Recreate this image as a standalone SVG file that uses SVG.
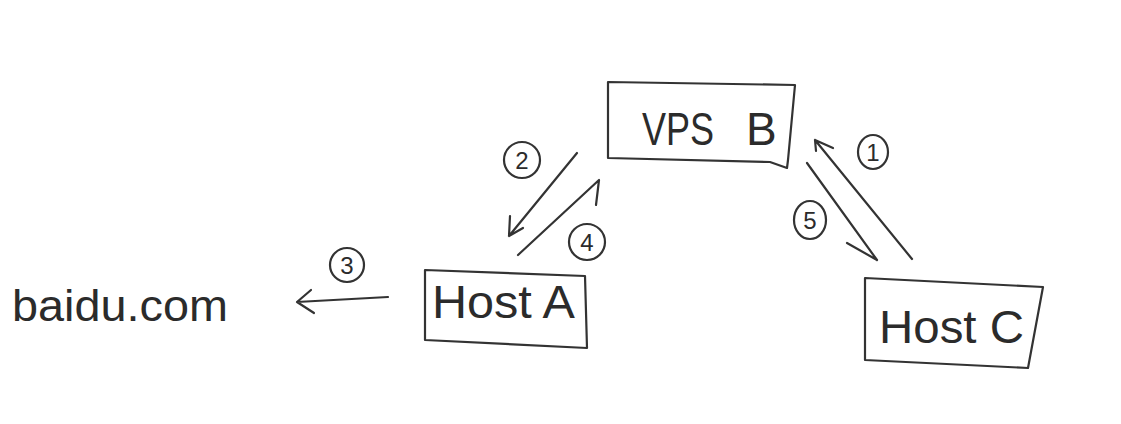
<svg xmlns="http://www.w3.org/2000/svg" width="1121" height="424" viewBox="0 0 1121 424">
  <style>
    .ink { fill: none; stroke: #333; stroke-width: 2.2; stroke-linecap: round; stroke-linejoin: round; }
    .label { font-family: "Liberation Sans", Arial, sans-serif; fill: #2b2b2b; }
    .big { font-size: 46px; }
    .num { font-size: 24px; text-anchor: middle; }
  </style>
  <rect x="0" y="0" width="1121" height="424" fill="#ffffff"/>

  <!-- nodes -->
  <g id="vps-b">
    <path class="ink" d="M608,82 L795,85 L788,160 L787,168 L770,162 L608,158 Z"/>
    <text class="label big" x="642" y="145"><tspan textLength="72" lengthAdjust="spacingAndGlyphs">VPS</tspan> <tspan x="746">B</tspan></text>
  </g>

  <g id="host-a">
    <path class="ink" d="M425,270 L585,276 L587,348 L425,340 Z"/>
    <text class="label big" x="432" y="318" textLength="143" lengthAdjust="spacingAndGlyphs">Host A</text>
  </g>

  <g id="host-c">
    <path class="ink" d="M865,278 L1043,287 L1028,368 L865,360 Z"/>
    <text class="label big" x="879" y="343" textLength="145" lengthAdjust="spacingAndGlyphs">Host C</text>
  </g>

  <g id="baidu">
    <text class="label" x="12" y="321" font-size="44" textLength="216" lengthAdjust="spacingAndGlyphs">baidu.com</text>
  </g>

  <!-- connectors with their step numbers -->
  <g id="connectors">
    <!-- 1: Host C to VPS B -->
    <path class="ink" d="M912,259 L815,140 M815,140 L833,148 M815,140 L816,151"/>
    <ellipse class="ink" cx="873" cy="152" rx="15" ry="17"/>
    <text class="label num" x="873" y="161">1</text>

    <!-- 2: VPS B to Host A -->
    <path class="ink" d="M577,153 L509,236 M509,236 L510,216 M509,236 L523,228"/>
    <circle class="ink" cx="522" cy="160" r="18"/>
    <text class="label num" x="522" y="169">2</text>

    <!-- 3: Host A to baidu.com -->
    <path class="ink" d="M388,297 L297,302 M297,302 L311,290 M297,302 L314,313"/>
    <circle class="ink" cx="347" cy="265" r="17"/>
    <text class="label num" x="347" y="274">3</text>

    <!-- 4: Host A back to VPS B -->
    <path class="ink" d="M518,255 L599,180 M599,180 L596,205"/>
    <circle class="ink" cx="587" cy="242" r="18"/>
    <text class="label num" x="587" y="251">4</text>

    <!-- 5: VPS B back to Host C -->
    <path class="ink" d="M807,163 L877,260 M877,260 L847,243"/>
    <ellipse class="ink" cx="810" cy="220" rx="16" ry="19"/>
    <text class="label num" x="810" y="229">5</text>
  </g>
</svg>
